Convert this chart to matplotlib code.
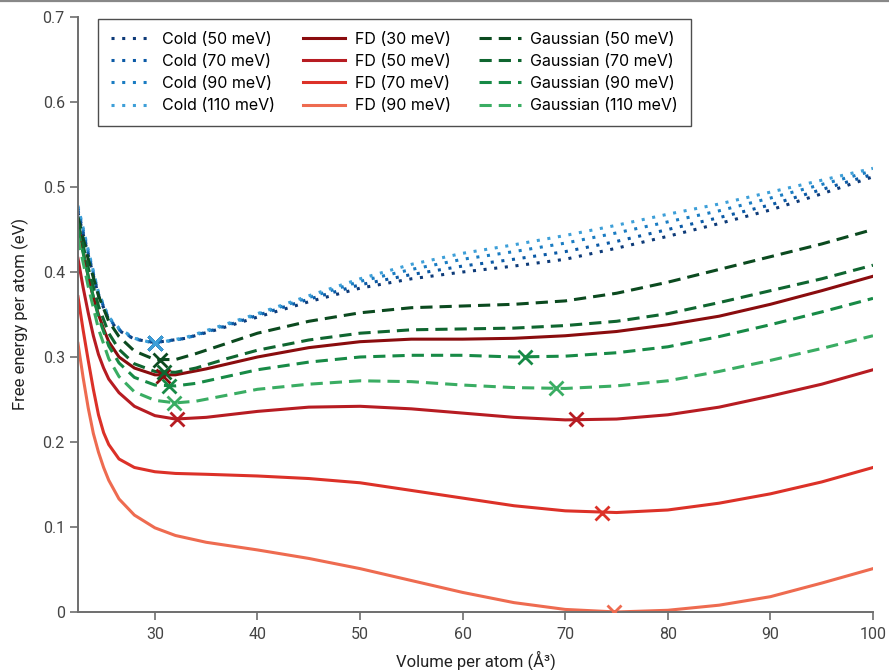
import matplotlib
matplotlib.use('Agg')
import matplotlib.pyplot as plt
from matplotlib.lines import Line2D

plt.rcParams['font.family'] = ['Roboto', 'DejaVu Sans']

# ---------------- data ----------------
cold_x = [22.5, 23.5, 24.5, 25.5, 26.5, 28, 30, 33, 36, 40, 45, 50, 55, 60, 65, 70, 75, 80, 85, 90, 95, 100]
cold_50 = [0.470, 0.420, 0.372, 0.344, 0.331, 0.321, 0.317, 0.322, 0.332, 0.347, 0.365, 0.381, 0.392, 0.400, 0.407, 0.415, 0.428, 0.442, 0.457, 0.473, 0.492, 0.512]
cold_70 = [0.473, 0.422, 0.374, 0.345, 0.332, 0.321, 0.317, 0.322, 0.333, 0.349, 0.368, 0.385, 0.397, 0.407, 0.415, 0.424, 0.436, 0.450, 0.464, 0.479, 0.497, 0.515]
cold_90 = [0.476, 0.424, 0.375, 0.346, 0.333, 0.322, 0.316, 0.322, 0.334, 0.350, 0.370, 0.389, 0.403, 0.415, 0.424, 0.434, 0.446, 0.459, 0.472, 0.487, 0.503, 0.519]
cold_110 = [0.478, 0.426, 0.376, 0.347, 0.334, 0.322, 0.316, 0.323, 0.335, 0.351, 0.372, 0.392, 0.409, 0.422, 0.432, 0.443, 0.455, 0.468, 0.480, 0.494, 0.508, 0.522]

fd_x = [22.5, 23, 23.5, 24, 24.5, 25, 25.5, 26.5, 28, 30, 32, 35, 40, 45, 50, 55, 60, 65, 70, 75, 80, 85, 90, 95, 100]
fd_30 = [0.460, 0.425, 0.395, 0.370, 0.350, 0.333, 0.318, 0.300, 0.287, 0.279, 0.279, 0.286, 0.300, 0.311, 0.318, 0.321, 0.321, 0.322, 0.325, 0.330, 0.338, 0.348, 0.362, 0.378, 0.395]
fd_50 = [0.416, 0.382, 0.352, 0.325, 0.303, 0.287, 0.274, 0.258, 0.242, 0.231, 0.227, 0.229, 0.236, 0.241, 0.242, 0.239, 0.234, 0.229, 0.226, 0.227, 0.232, 0.241, 0.254, 0.268, 0.285]
fd_70 = [0.371, 0.332, 0.296, 0.262, 0.232, 0.211, 0.197, 0.180, 0.170, 0.165, 0.163, 0.162, 0.160, 0.157, 0.152, 0.143, 0.134, 0.125, 0.119, 0.117, 0.120, 0.128, 0.139, 0.153, 0.170]
fd_90 = [0.316, 0.276, 0.240, 0.210, 0.188, 0.170, 0.155, 0.133, 0.114, 0.099, 0.090, 0.082, 0.073, 0.063, 0.051, 0.037, 0.023, 0.011, 0.003, 0.000, 0.002, 0.008, 0.018, 0.034, 0.051]

g_x = [22.5, 23.5, 24.5, 25.5, 26.5, 28, 30, 32, 34, 37, 40, 45, 50, 55, 60, 65, 70, 75, 80, 85, 90, 95, 100]
g_50 = [0.465, 0.415, 0.372, 0.342, 0.324, 0.307, 0.297, 0.297, 0.304, 0.316, 0.328, 0.342, 0.352, 0.358, 0.360, 0.362, 0.366, 0.375, 0.388, 0.403, 0.418, 0.433, 0.450]
g_70 = [0.458, 0.405, 0.360, 0.328, 0.309, 0.292, 0.283, 0.282, 0.287, 0.298, 0.308, 0.320, 0.328, 0.332, 0.333, 0.334, 0.337, 0.342, 0.351, 0.364, 0.378, 0.392, 0.408]
g_90 = [0.450, 0.395, 0.347, 0.313, 0.293, 0.276, 0.267, 0.266, 0.269, 0.277, 0.285, 0.294, 0.300, 0.302, 0.302, 0.300, 0.301, 0.305, 0.312, 0.324, 0.338, 0.353, 0.369]
g_110 = [0.440, 0.383, 0.333, 0.298, 0.277, 0.259, 0.249, 0.246, 0.248, 0.255, 0.262, 0.268, 0.272, 0.271, 0.267, 0.264, 0.263, 0.266, 0.272, 0.283, 0.296, 0.310, 0.325]

# minima markers (x, y) per curve
min_cold_x = [30.0, 30.0, 30.0, 30.0]
min_cold_y = [0.317, 0.317, 0.316, 0.316]
min_fd_x = [[30.8], [32.2, 71.0], [73.6], [74.8]]
min_fd_y = [[0.278], [0.227, 0.227], [0.116], [0.0]]
min_g_x = [[30.5], [30.9], [31.4, 66.1], [31.9, 69.1]]
min_g_y = [[0.296], [0.282], [0.266, 0.300], [0.246, 0.264]]

cold_labels = ['Cold (50 meV)', 'Cold (70 meV)', 'Cold (90 meV)', 'Cold (110 meV)']
fd_labels = ['FD (30 meV)', 'FD (50 meV)', 'FD (70 meV)', 'FD (90 meV)']
g_labels = ['Gaussian (50 meV)', 'Gaussian (70 meV)', 'Gaussian (90 meV)', 'Gaussian (110 meV)']

xticks = [30, 40, 50, 60, 70, 80, 90, 100]
yticks = [0, 0.1, 0.2, 0.3, 0.4, 0.5, 0.6, 0.7]
ytick_labels = ['0', '0.1', '0.2', '0.3', '0.4', '0.5', '0.6', '0.7']

cold_colors = ['#0d3a78', '#0b5aa6', '#1a7cc2', '#3d9fd8']
fd_colors = ['#8a0c0e', '#b71c22', '#dc3128', '#ee6b50']
g_colors = ['#0b4a1f', '#0f6630', '#178a46', '#3aad63']

# ---------------- figure ----------------
fig = plt.figure(figsize=(8.89, 6.70), dpi=100)
ax = fig.add_axes([0.0877, 0.0866, 0.8943, 0.888])

lw = 2.2
cold_sets = [cold_50, cold_70, cold_90, cold_110]
fd_sets = [fd_30, fd_50, fd_70, fd_90]
g_sets = [g_50, g_70, g_90, g_110]

handles = []
for ys, c, lab in zip(cold_sets, cold_colors, cold_labels):
    h, = ax.plot(cold_x, ys, color=c, lw=lw, linestyle=(0, (1, 2.5)), label=lab, zorder=2)
    handles.append(h)
for ys, c, lab in zip(fd_sets, fd_colors, fd_labels):
    h, = ax.plot(fd_x, ys, color=c, lw=lw, linestyle='-', label=lab, zorder=2)
    handles.append(h)
for ys, c, lab in zip(g_sets, g_colors, g_labels):
    h, = ax.plot(g_x, ys, color=c, lw=lw, linestyle=(0, (4, 2.3)), label=lab, zorder=2)
    handles.append(h)

# minima crosses
for mx, my, c in zip(min_fd_x, min_fd_y, fd_colors):
    ax.plot(mx, my, 'x', color=c, ms=10, mew=2, zorder=4)
for mx, my, c in zip(min_g_x, min_g_y, g_colors):
    ax.plot(mx, my, 'x', color=c, ms=10, mew=2, zorder=4)
for mx, my, c in zip(min_cold_x, min_cold_y, cold_colors):
    ax.plot([mx], [my], 'x', color=c, ms=10, mew=2, zorder=4)

ax.set_xlim(22.5, 100)
ax.set_ylim(0, 0.7)
ax.set_xticks(xticks)
ax.set_yticks(yticks)
ax.set_yticklabels(ytick_labels)

for s in ['top', 'right']:
    ax.spines[s].set_visible(False)
for s in ['left', 'bottom']:
    ax.spines[s].set_color('#6e6e6e')
    ax.spines[s].set_linewidth(1.4)
ax.tick_params(axis='both', colors='#6e6e6e', labelcolor='#444444', labelsize=11.5,
               length=6, width=1.2, direction='out')
ax.tick_params(axis='x', pad=5)

ax.set_xlabel('Volume per atom (Å³)', fontsize=12, color='#222222', labelpad=6)
ax.set_ylabel('Free energy per atom (eV)', fontsize=12, color='#222222', labelpad=10)

leg = ax.legend(handles=handles, ncol=3, loc='upper left', bbox_to_anchor=(0.025, 0.997),
                borderaxespad=0, frameon=True, fancybox=False, edgecolor='#222222',
                prop={'family': ['Inter', 'DejaVu Sans'], 'size': 11.5},
                handlelength=2.6, handletextpad=0.6, columnspacing=1.8,
                labelspacing=0.45, borderpad=0.8)
leg.get_frame().set_linewidth(1.0)

# thin rule at the very top of the figure
fig.add_artist(Line2D([0, 1], [0.998, 0.998], transform=fig.transFigure,
                      color='#888888', lw=1.6))

fig.savefig('out.png', dpi=100)
plt.close(fig)
